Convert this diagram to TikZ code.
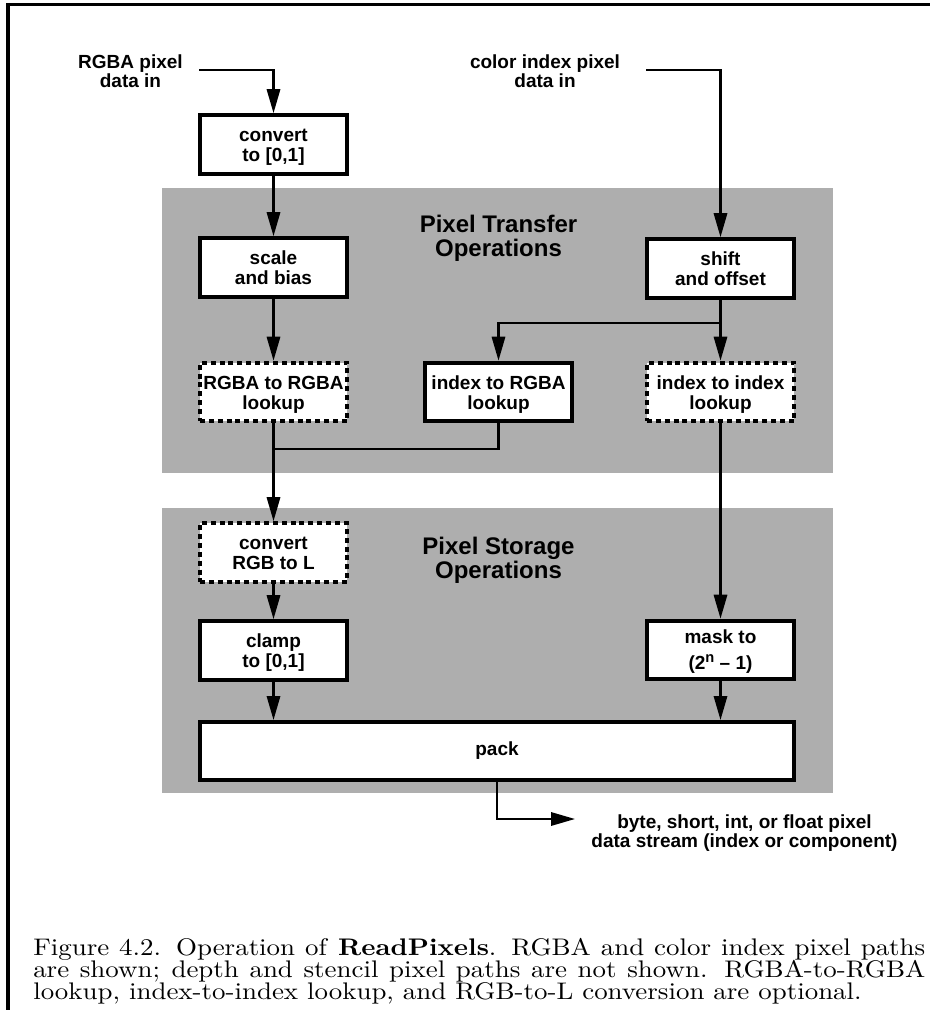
\documentclass[tikz,border=0pt]{standalone}
\usepackage{fontspec}
\usepackage{graphicx}
\usetikzlibrary{arrows.meta}
\newfontfamily\hv{Liberation Sans}
\definecolor{halftone}{RGB}{174,174,174}
\newcommand\TwoL[2]{\raisebox{0pt}[10pt][14.5pt]{\begin{tabular}[t]{@{}c@{}}#1\\#2\end{tabular}}}
\newcommand\OneL[1]{\raisebox{0pt}[10pt][3pt]{#1}}
\newcommand\supn{\raisebox{5.5pt}{\fontsize{11}{11}\selectfont n}}
\begin{document}
\begin{tikzpicture}[x=0.75pt,y=-0.75pt,
  box/.style={draw, line width=3pt, fill=white, minimum width=110.25pt, minimum height=44pt,
    inner sep=0pt, font=\hv\bfseries\fontsize{14.25}{15}\selectfont},
  optbox/.style={box, dash pattern=on 3.75pt off 2.9pt},
  conn/.style={line width=1.65pt},
  arr/.style={conn, -{Triangle[length=18pt,width=10pt]}},
  lbl/.style={anchor=base, inner sep=0pt, font=\hv\bfseries\fontsize{14.25}{14.25}\selectfont},
  ttl/.style={anchor=base, inner sep=0pt, font=\hv\bfseries\fontsize{18}{17.5}\selectfont},
  shade/.style={fill=halftone}
]
\useasboundingbox (0,0) rectangle (930,1010);
% frame
\draw[line width=2.25pt] (6,4) -- (930,4);
\draw[line width=3pt] (8,2.9) -- (8,1010);
% shaded regions
\fill[shade] (162,188) rectangle (833,473);
\fill[shade] (162,508) rectangle (833,793);
% titles
\node[ttl] (ttlT) at (498.5,232) {\begin{tabular}[t]{@{}c@{}}Pixel Transfer\\Operations\end{tabular}};
\node[ttl] (ttlS) at (498.5,554) {\begin{tabular}[t]{@{}c@{}}Pixel Storage\\Operations\end{tabular}};
% input labels
\node[lbl] (rgbain) at (130.5,68.3) {\begin{tabular}[t]{@{}c@{}}RGBA pixel\\data in\end{tabular}};
\node[lbl] (ciin) at (545,68.3) {\begin{tabular}[t]{@{}c@{}}color index pixel\\data in\end{tabular}};
\coordinate (rgbaStart) at (199,70);
\coordinate (ciStart) at (646,70);
% boxes
\node[box] (conv) at (273.5,144.5) {\TwoL{convert}{to [0,1]}};
\node[box] (scale) at (273.5,267.5) {\TwoL{scale}{and bias}};
\node[box] (shift) at (720.5,268.5) {\TwoL{shift}{and offset}};
\node[optbox] (r2r) at (273.5,392) {\TwoL{RGBA to RGBA}{lookup}};
\node[box] (i2r) at (498.5,392) {\TwoL{index to RGBA}{lookup}};
\node[optbox] (i2i) at (720.5,392) {\TwoL{index to index}{lookup}};
\node[optbox] (rgbl) at (273.5,552.5) {\TwoL{convert}{RGB to L}};
\node[box] (clamp) at (273.5,650.5) {\TwoL{clamp}{to [0,1]}};
\node[box] (mask) at (720.5,650) {\raisebox{0pt}[10pt][20.5pt]{\begin{tabular}[t]{@{}c@{}}mask to\\[4pt](2\supn\ – 1)\end{tabular}}};
\node[box, minimum width=445.5pt, minimum height=43.5pt] (pack) at (497,751) {\OneL{pack}};
% output label
\node[lbl] (outlbl) at (744.5,828) {\begin{tabular}[t]{@{}c@{}}byte, short, int, or float pixel\\data stream (index or component)\end{tabular}};
\coordinate (outTip) at (575,819);
\coordinate (brA) at (720.5,323);
\coordinate (mrg) at (273.5,449);
% connectors
\draw[arr] (rgbaStart) -| (conv.north);
\draw[arr] (ciStart) -| (shift.north);
\draw[arr] (conv.south) -- (scale.north);
\draw[arr] (scale.south) -- (r2r.north);
\draw[arr] (shift.south) -- (i2i.north);
\draw[arr] (brA) -| (i2r.north);
\draw[conn] (i2r.south) |- (mrg);
\draw[arr] (r2r.south) -- (rgbl.north);
\draw[arr] (rgbl.south) -- (clamp.north);
\draw[arr] (i2i.south) -- (mask.north);
\draw[arr] (clamp.south) -- (clamp.south |- pack.north);
\draw[arr] (mask.south) -- (mask.south |- pack.north);
\draw[arr] (pack.south) |- (outTip);
% caption
\node[anchor=base west, inner sep=0pt] (cap) at (33,955) {\scalebox{2.02}[1.8]{\begin{minipage}[t]{331.2pt}\fontsize{10}{9.17}\selectfont\lineskiplimit=-20pt\lineskip=0pt
\makebox[\linewidth][s]{Figure 4.2. Operation of \textbf{ReadPixels}. RGBA and color index pixel paths}\\
\makebox[\linewidth][s]{are shown; depth and stencil pixel paths are not shown. RGBA-to-RGBA}\\
lookup, index-to-index lookup, and RGB-to-L conversion are optional.
\end{minipage}}};
\end{tikzpicture}
\end{document}
